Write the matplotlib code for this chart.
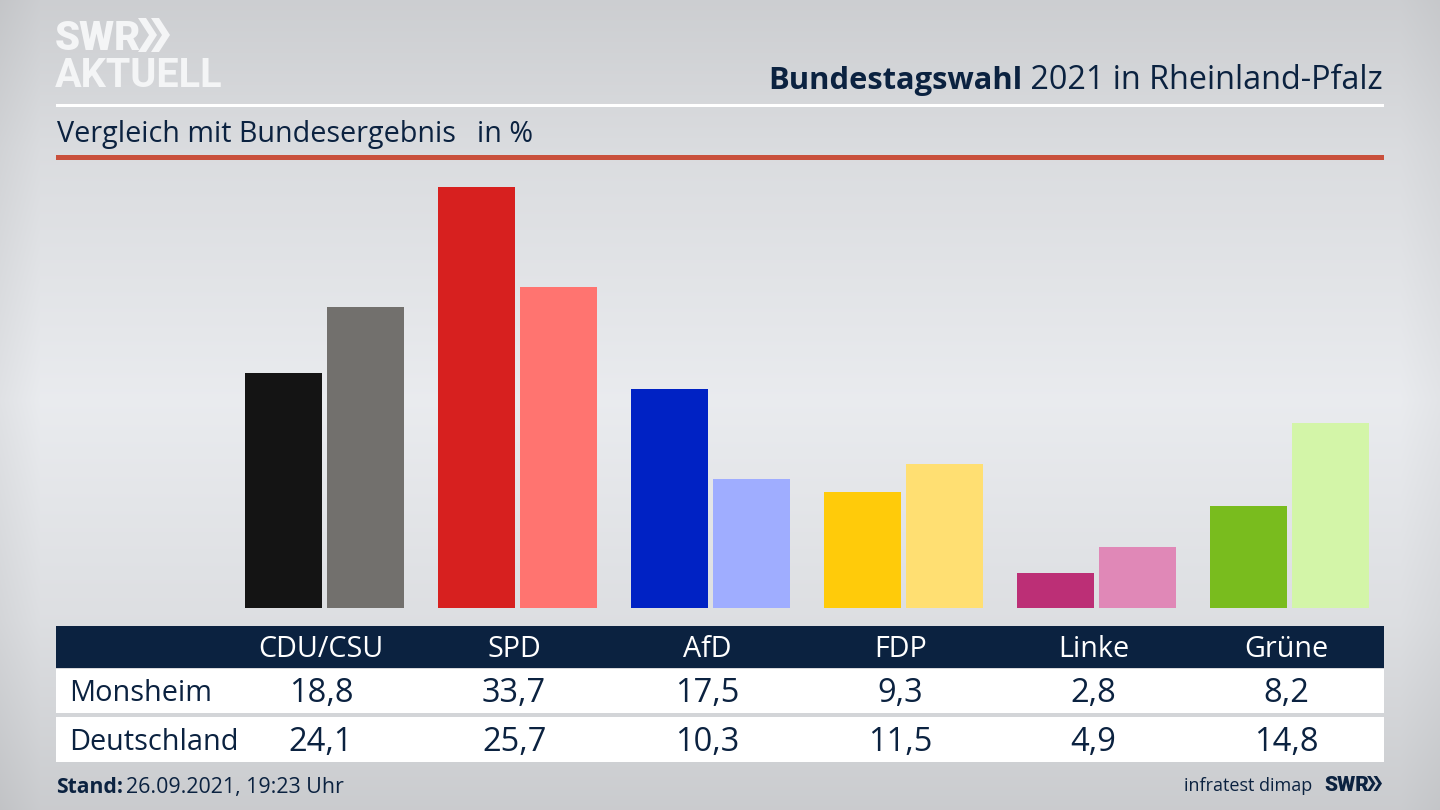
"""Bundestagswahl 2021 bar comparison, Monsheim vs Deutschland"""

import numpy as np
import matplotlib
matplotlib.use("Agg")
import matplotlib.pyplot as plt
from matplotlib.patches import Rectangle, Polygon

parties = ["CDU/CSU", "SPD", "AfD", "FDP", "Linke", "Grüne"]
monsheim = [18.8, 33.7, 17.5, 9.3, 2.8, 8.2]
deutschland = [24.1, 25.7, 10.3, 11.5, 4.9, 14.8]
row_names = ["Monsheim", "Deutschland"]

colours_local = ["#141414", "#d7201f", "#0022c4", "#ffcb0a", "#bc2f76", "#79bc1e"]
colours_federal = ["#72706d", "#ff7470", "#9fadff", "#ffdf72", "#e088b7", "#d3f5a8"]

NAVY = "#0b2240"
FONT = "Open Sans"
LOGO_FONT = "Roboto"
W, H = 1440, 810

# pixel positions of the chart area and the table columns
BASE_Y, TOP_Y = 608, 187
BAR0, BAR_STEP = 324.5, 193
COL0, COL_STEP = 321, 193.1


def fmt(v):
    return f"{v:.1f}".replace(".", ",")


fig = plt.figure(figsize=(W / 100, H / 100), dpi=100)
plt.rcParams["font.family"] = [FONT, "DejaVu Sans"]

# Background gradient, lightest in the middle and a bit darker at the side edges
bg = fig.add_axes([0, 0, 1, 1], zorder=0)
bg.axis("off")
shade = np.interp(np.arange(H), [0, 150, 400, 620, 810], [0.81, 0.865, 0.925, 0.875, 0.80])
edge = np.interp(np.arange(W), [0, 40, W - 40, W], [0.96, 1, 1, 0.97])
shade = np.outer(shade, edge)
grad = np.dstack([shade * 0.99, shade * 0.998, shade * 1.012]).clip(0, 1)
bg.imshow(grad, aspect="auto", extent=[0, W, H, 0])

# Bars
ax = fig.add_axes([0, 1 - BASE_Y / H, 1, (BASE_Y - TOP_Y) / H], zorder=1)
ax.set_xlim(-BAR0 / BAR_STEP, (W - BAR0) / BAR_STEP)
ax.set_ylim(0, max(monsheim))
ax.axis("off")
x = np.arange(len(parties))
ax.bar(x - 41 / BAR_STEP, monsheim, width=77 / BAR_STEP, color=colours_local)
ax.bar(x + 41 / BAR_STEP, deutschland, width=77 / BAR_STEP, color=colours_federal)

# Overlay in pixel coordinates for header, table and footer
ov = fig.add_axes([0, 0, 1, 1], zorder=2)
ov.set_xlim(0, W)
ov.set_ylim(H, 0)
ov.axis("off")
ov.patch.set_alpha(0)


def rect(x0, y0, x1, y1, colour):
    ov.add_patch(Rectangle((x0, y0), x1 - x0, y1 - y0, color=colour, lw=0))


def chevrons(x0, y0, h, colour, depth, thick, gap):
    for i in range(2):
        left = x0 + i * gap
        ov.add_patch(Polygon([(left, y0), (left + thick, y0), (left + thick + depth, y0 + h / 2),
                              (left + thick, y0 + h), (left, y0 + h), (left + depth, y0 + h / 2)],
                             closed=True, color=colour, lw=0))


rect(56, 104, 1384, 107, "white")
rect(56, 155, 1384, 160, "#c9503c")

rect(56, 626, 1384, 668, NAVY)
rect(56, 669, 1384, 713, "white")
rect(56, 717, 1384, 762, "white")

# Logo
ov.text(55, 50, "SWR", color="#f4f5f6", fontsize=29, fontweight="black", family=LOGO_FONT, va="baseline")
chevrons(138, 18, 34, "#f4f5f6", 11, 8, 13)
ov.text(55, 87, "AKTUELL", color="#f4f5f6", fontsize=28.5, fontweight="bold", family=LOGO_FONT, va="baseline")

# Title, right aligned with the bold part in front
title_rest = ov.text(1383, 89, " 2021 in Rheinland-Pfalz", color=NAVY, fontsize=23.3, family=FONT,
                     ha="right", va="baseline")
fig.canvas.draw()
left_px = title_rest.get_window_extent().x0
ov.text(left_px, 89, "Bundestagswahl", color=NAVY, fontsize=22.25, fontweight="bold", family=FONT,
        ha="right", va="baseline")

ov.text(57, 142, "Vergleich mit Bundesergebnis", color=NAVY, fontsize=20.7, family=FONT, va="baseline")
ov.text(477, 142, "in %", color=NAVY, fontsize=20.7, family=FONT, va="baseline")

# Table
for i, party in enumerate(parties):
    cx = COL0 + i * COL_STEP
    ov.text(cx, 657, party, color="white", fontsize=20.7, family=FONT, ha="center", va="baseline")
    ov.text(cx, 702, fmt(monsheim[i]), color=NAVY, fontsize=23.5, family=FONT, ha="center", va="baseline")
    ov.text(cx, 751, fmt(deutschland[i]), color=NAVY, fontsize=23.5, family=FONT, ha="center", va="baseline")

ov.text(69.5, 701, row_names[0], color=NAVY, fontsize=20.8, family=FONT, va="baseline")
ov.text(69.5, 750, row_names[1], color=NAVY, fontsize=20.8, family=FONT, va="baseline")

# Footer
ov.text(56, 793, "Stand:", color=NAVY, fontsize=15.2, fontweight="bold", family=FONT, va="baseline")
ov.text(126, 793, "26.09.2021, 19:23 Uhr", color=NAVY, fontsize=15.4, family=FONT, va="baseline")
ov.text(1312, 791, "infratest dimap", color=NAVY, fontsize=13, family=FONT, ha="right", va="baseline")
ov.text(1324, 791, "SWR", color=NAVY, fontsize=15, fontweight="black", family=LOGO_FONT, va="baseline")
chevrons(1367, 776, 15, NAVY, 5, 3.5, 6.5)

fig.savefig("out.png", dpi=100)
plt.close()
